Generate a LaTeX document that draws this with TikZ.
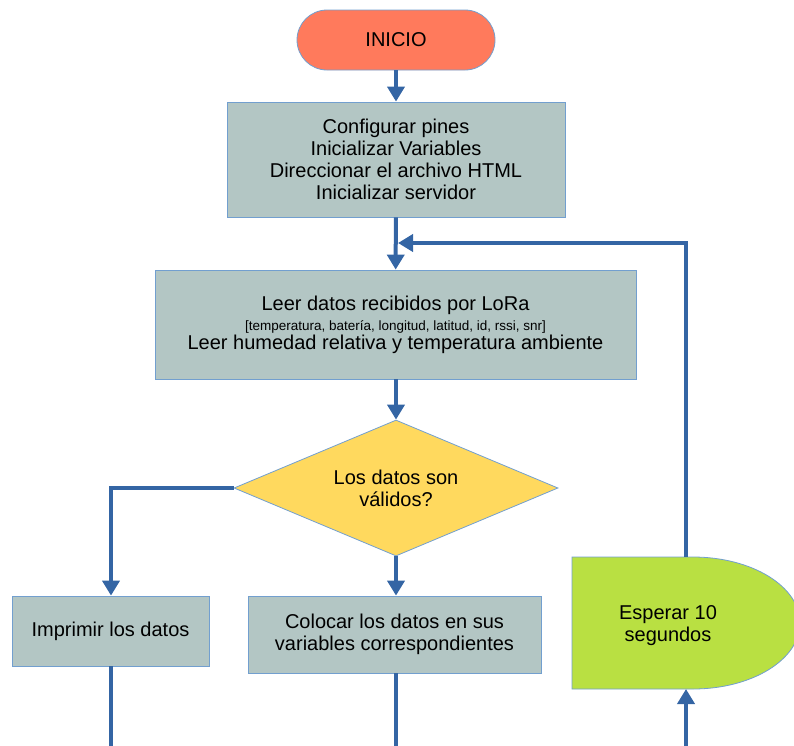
\documentclass[tikz,border=0pt]{standalone}
\usepackage{fontspec}
\setmainfont{Liberation Sans}
\usetikzlibrary{arrows.meta,shapes.geometric}
\definecolor{ini}{RGB}{255,122,92}
\definecolor{proc}{RGB}{179,198,196}
\definecolor{dec}{RGB}{255,217,94}
\definecolor{wt}{RGB}{185,224,66}
\definecolor{ln}{RGB}{52,101,164}
\definecolor{edge}{RGB}{114,159,207}

\tikzset{
  box/.style={draw=edge, fill=proc, line width=0.8pt, align=center, inner sep=0pt},
  flow/.style={draw=ln, line width=4pt, -{Triangle[width=17pt,length=15pt]}},
  wire/.style={draw=ln, line width=4pt},
}

\begin{document}
\begin{tikzpicture}[x=1pt, y=-1pt, font=\fontsize{20}{22}\selectfont]
  \useasboundingbox (0,0) rectangle (794,745);
  \clip (0,0) rectangle (794,745);

  % main column
  \node[box, fill=ini, rounded corners=30pt, minimum width=198pt, minimum height=60pt] (inicio) at (396,40) {INICIO};
  \node[box, minimum width=338pt, minimum height=115pt] (config) at (396,159.5)
    {Configurar pines\\Inicializar Variables\\Direccionar el archivo HTML\\Inicializar servidor};
  \node[box, minimum width=481pt, minimum height=109pt] (leer) at (395.5,324.5)
    {Leer datos recibidos por LoRa\\[-2pt]
     {\fontsize{13.5}{13}\selectfont [temperatura, batería, longitud, latitud, id, rssi, snr]}\\[-3pt]
     Leer humedad relativa y temperatura ambiente};
  \node[box, diamond, aspect=2.4, fill=dec, minimum width=324pt, minimum height=136pt] (valid) at (396,488)
    {Los datos son\\válidos?};
  \node[box, minimum width=197pt, minimum height=70pt] (imprimir) at (110.5,631) {Imprimir los datos};
  \node[box, minimum width=293pt, minimum height=77pt] (colocar) at (394.5,634.5)
    {Colocar los datos en sus\\variables correspondientes};

  % delay block
  \fill[wt] (572,557) -- (693,557) arc[start angle=-90, end angle=90, x radius=107, y radius=66] -- (572,689) -- cycle;
  \draw[edge, line width=0.8pt] (572,557) -- (693,557) arc[start angle=-90, end angle=90, x radius=107, y radius=66] -- (572,689) -- cycle;
  \node[align=center] (wait) at (668,626) {Esperar 10\\segundos};
  \coordinate (waittop) at (686,557);
  \coordinate (waitbot) at (686,689);

  \coordinate (join) at (398,243);
  \coordinate (outA) at (111,750);
  \coordinate (outB) at (396,750);
  \coordinate (inC) at (686,750);

  % connectors
  \draw[flow] (inicio) -- (config);
  \draw[flow] (config) -- (leer);
  \draw[flow] (leer.south -| valid.north) -- (valid.north);
  \draw[flow] (valid.west) -| (imprimir.north -| outA);
  \draw[flow] (valid.south) -- (valid.south |- colocar.north);
  \draw[wire] (imprimir.south -| outA) -- (outA);
  \draw[wire] (colocar.south -| outB) -- (outB);
  \draw[flow] (inC) -- (waitbot);
  \draw[flow] (waittop) |- (join);
\end{tikzpicture}
\end{document}
